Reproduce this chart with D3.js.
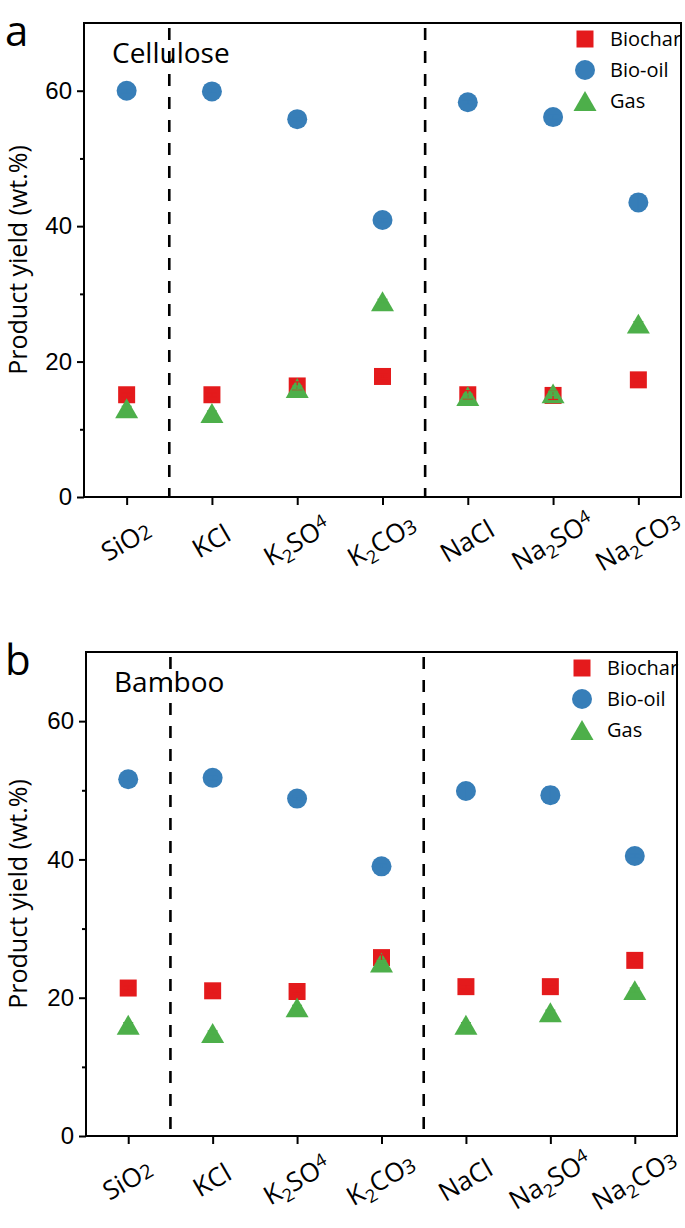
<!DOCTYPE html>
<html>
<head>
<meta charset="utf-8">
<script src="https://cdn.jsdelivr.net/npm/d3@7"></script>
<style>
  body { margin: 0; background: #fff; }
  svg { display: block; font-family: "Open Sans", "Noto Sans", sans-serif; }
</style>
</head>
<body>
<div id="chart"></div>
<script>
// categories and label pieces (kind: n = normal, sub = subscript, sm = small digit, up = raised digit)
const categories = ["SiO2", "KCl", "K2SO4", "K2CO3", "NaCl", "Na2SO4", "Na2CO3"];
const categoryLabels = [
  [["SiO", "n"], ["2", "sm"]],
  [["KCl", "n"]],
  [["K", "n"], ["2", "sub"], ["SO", "n"], ["4", "up"]],
  [["K", "n"], ["2", "sub"], ["CO", "n"], ["3", "sm"]],
  [["NaCl", "n"]],
  [["Na", "n"], ["2", "sub"], ["SO", "n"], ["4", "up"]],
  [["Na", "n"], ["2", "sub"], ["CO", "n"], ["3", "sm"]],
];
const seriesNames = ["Biochar", "Bio-oil", "Gas"];

const celluloseBiochar = [15.1, 15.1, 16.4, 17.8, 15.1, 15.0, 17.3];
const celluloseBioOil = [60.0, 59.9, 55.8, 40.9, 58.3, 56.1, 43.5];
const celluloseGas = [13.1, 12.4, 16.1, 28.9, 14.9, 15.3, 25.6];
const celluloseBiocharErr = [0.3, 0.3, 0.6, 0.3, 0.6, 0.6, 0.3];
const celluloseBioOilErr = [0.3, 0.3, 0.3, 0.3, 0.3, 0.3, 1.2];
const celluloseGasErr = [0.3, 0.3, 0.3, 0.3, 0.3, 0.3, 0.3];

const bambooBiochar = [21.4, 21.0, 20.9, 25.8, 21.6, 21.6, 25.4];
const bambooBioOil = [51.6, 51.8, 48.8, 39.0, 49.9, 49.3, 40.5];
const bambooGas = [16.1, 14.9, 18.6, 25.1, 16.1, 17.9, 21.1];
const bambooBiocharErr = [0.3, 0.3, 0.3, 0.4, 0.3, 0.3, 0.3];
const bambooBioOilErr = [0.3, 0.3, 0.3, 0.3, 1.1, 1.2, 0.3];
const bambooGasErr = [0.3, 0.3, 0.3, 0.3, 0.3, 0.3, 0.3];

const yMajorTicks = [0, 20, 40, 60];
const yMinorTicks = [10, 30, 50];
const dividerAfter = [0, 3]; // dashed lines between these categories and the next

const COLORS = { Biochar: "#E41A1C", "Bio-oil": "#377EB8", Gas: "#4DAF4A" };
const TRI_SIDE = 23;
const TRI_H = TRI_SIDE * Math.sqrt(3) / 2;

const symbolFor = (name) => {
  if (name === "Biochar") return d3.symbol().type(d3.symbolSquare).size(17 * 17)();
  if (name === "Bio-oil") return d3.symbol().type(d3.symbolCircle).size(Math.PI * 100)();
  return d3.symbol().type(d3.symbolTriangle).size(Math.sqrt(3) / 4 * TRI_SIDE * TRI_SIDE)();
};
// triangle is centred on its centroid, move it so the box centre sits on the value
const symbolOffset = (name) => (name === "Gas" ? TRI_H / 6 : 0);

const svg = d3.select("#chart").append("svg").attr("width", 685).attr("height", 1228);

const drawPanel = (cfg) => {
  const g = svg.append("g");
  const x = d3.scalePoint().domain(categories).range([cfg.left, cfg.right]).padding(0.5);
  const y = d3.scaleLinear().domain([0, 70]).range([cfg.bottom, cfg.top]);
  const step = x.step();

  // y axis major + minor ticks
  g.append("g")
    .attr("transform", `translate(${cfg.left},0)`)
    .call(d3.axisLeft(y).tickValues(yMajorTicks).tickSize(7).tickPadding(5).tickFormat(d3.format("d")))
    .call((a) => a.select(".domain").remove())
    .call((a) => a.selectAll("line").attr("stroke-width", 2))
    .call((a) => a.selectAll("text").attr("font-size", 24).attr("fill", "#000").attr("font-family", null));
  g.append("g")
    .attr("transform", `translate(${cfg.left},0)`)
    .call(d3.axisLeft(y).tickValues(yMinorTicks).tickSize(4).tickFormat(""))
    .call((a) => a.select(".domain").remove())
    .call((a) => a.selectAll("line").attr("stroke-width", 2));

  // x axis ticks
  g.append("g")
    .attr("transform", `translate(0,${cfg.bottom})`)
    .call(d3.axisBottom(x).tickSize(8).tickFormat(""))
    .call((a) => a.select(".domain").remove())
    .call((a) => a.selectAll("line").attr("stroke-width", 2));

  // category labels, rotated
  categories.forEach((c, i) => {
    const t = g.append("text")
      .attr("transform", `translate(${x(c) + 4},${cfg.bottom + 52}) rotate(-30)`)
      .attr("text-anchor", "middle")
      .attr("font-size", 26);
    let shift = 0;
    categoryLabels[i].forEach(([txt, kind]) => {
      const s = t.append("tspan").text(txt);
      let dy = 0;
      if (kind === "sub") { s.attr("font-size", 18); dy = 6; }
      if (kind === "sm") s.attr("font-size", 20);
      if (kind === "up") { s.attr("font-size", 18); dy = -8; }
      s.attr("dy", dy - shift);
      shift = dy;
    });
  });

  // dashed dividers
  dividerAfter.forEach((i) => {
    const xd = x(categories[i]) + step / 2;
    g.append("line")
      .attr("x1", xd).attr("x2", xd)
      .attr("y1", cfg.top + 5).attr("y2", cfg.bottom)
      .attr("stroke", "#000").attr("stroke-width", 2.6)
      .attr("stroke-dasharray", "12 11");
  });

  // frame
  g.append("rect")
    .attr("x", cfg.left).attr("y", cfg.top)
    .attr("width", cfg.right - cfg.left).attr("height", cfg.bottom - cfg.top)
    .attr("fill", "none").attr("stroke", "#000").attr("stroke-width", 2);

  // markers
  cfg.series.forEach((s) => {
    g.append("g").selectAll("path").data(s.values).join("path")
      .attr("d", symbolFor(s.name))
      .attr("fill", COLORS[s.name])
      .attr("transform", (d, i) => `translate(${x(categories[i])},${y(d) + symbolOffset(s.name)})`);
  });

  // error bars on top (only peek out where bars exceed markers)
  cfg.series.forEach((s) => {
    const eb = g.append("g").attr("stroke", COLORS[s.name]).attr("stroke-width", 1.2);
    s.values.forEach((v, i) => {
      const cx = x(categories[i]);
      const e = s.err[i];
      eb.append("line").attr("x1", cx).attr("x2", cx).attr("y1", y(v - e)).attr("y2", y(v + e));
      [v - e, v + e].forEach((yy) => {
        eb.append("line").attr("x1", cx - 5).attr("x2", cx + 5).attr("y1", y(yy)).attr("y2", y(yy));
      });
    });
  });

  // legend
  seriesNames.forEach((name, i) => {
    const ly = cfg.legendY + i * 31;
    g.append("path")
      .attr("d", symbolFor(name))
      .attr("fill", COLORS[name])
      .attr("transform", `translate(${cfg.legendX},${ly + symbolOffset(name)})`);
    g.append("text")
      .attr("x", cfg.legendX + 25).attr("y", ly + 7)
      .attr("font-size", 20)
      .text(name);
  });

  // panel title, letter and y label
  g.append("text").attr("x", cfg.left + 28).attr("y", cfg.top + 40).attr("font-size", 28).text(cfg.title);
  g.append("text").attr("x", 5).attr("y", cfg.top + 23).attr("font-size", 42).text(cfg.letter);
  g.append("text")
    .attr("transform", `translate(27,${(cfg.top + cfg.bottom) / 2}) rotate(-90)`)
    .attr("text-anchor", "middle")
    .attr("font-size", 25)
    .text("Product yield (wt.%)");
};

drawPanel({
  left: 84, right: 681, top: 23, bottom: 497,
  title: "Cellulose", letter: "a",
  legendX: 585, legendY: 39,
  series: [
    { name: "Biochar", values: celluloseBiochar, err: celluloseBiocharErr },
    { name: "Bio-oil", values: celluloseBioOil, err: celluloseBioOilErr },
    { name: "Gas", values: celluloseGas, err: celluloseGasErr },
  ],
});

drawPanel({
  left: 86, right: 677, top: 652, bottom: 1136,
  title: "Bamboo", letter: "b",
  legendX: 582, legendY: 668,
  series: [
    { name: "Biochar", values: bambooBiochar, err: bambooBiocharErr },
    { name: "Bio-oil", values: bambooBioOil, err: bambooBioOilErr },
    { name: "Gas", values: bambooGas, err: bambooGasErr },
  ],
});
</script>
</body>
</html>
